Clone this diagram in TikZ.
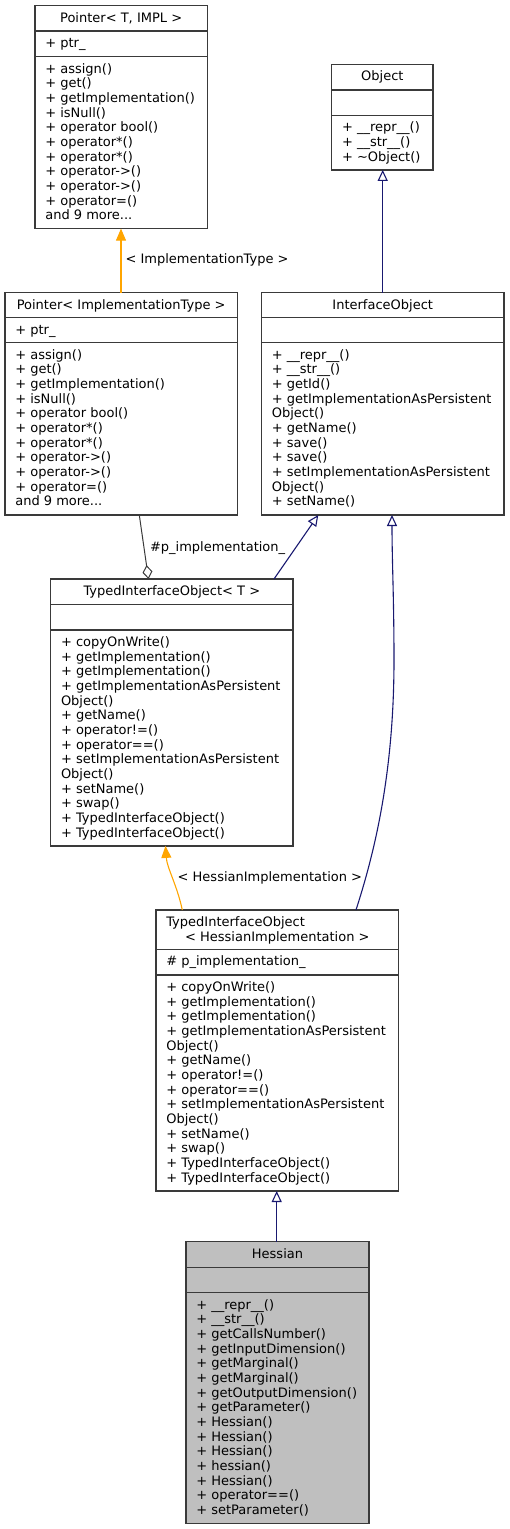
\documentclass[tikz,border=0pt]{standalone}
\usepackage{fontspec}
\setmainfont{DejaVu Sans}
\usetikzlibrary{arrows.meta}
\definecolor{edgeblue}{HTML}{191970}
\definecolor{edgeorange}{HTML}{FFA500}
\definecolor{boxline}{HTML}{3A3A3A}
\definecolor{hessfill}{HTML}{BFBFBF}
\newcommand{\dfont}{\fontsize{13}{14.66}\selectfont}
\tikzset{
  box/.style={draw=boxline, line width=1.2pt, inner sep=0pt, outer sep=0pt, anchor=north west, rectangle},
  sepline/.style={draw=boxline, line width=1.2pt},
  txt/.style={font=\dfont, inner sep=0pt, outer sep=0pt, align=left, anchor=north west},
  ttl/.style={font=\dfont, inner sep=0pt, outer sep=0pt, anchor=base},
  lbl/.style={font=\dfont, inner sep=0pt, outer sep=0pt, anchor=base west},
  inh/.style={draw=edgeblue, line width=1.1pt, -{Triangle[open, length=11pt, width=10pt, line width=1.1pt]}},
  tmpl/.style={draw=edgeorange, line width=1.1pt, -{Triangle[length=12pt, width=10pt, fill=edgeorange]}},
  agg/.style={draw=boxline, line width=1pt, -{Diamond[open, length=14pt, width=10pt, line width=1pt]}}
}
% #1 extra style, #2 name, #3 x, #4 y, #5 w, #6 h1, #7 h2, #8 h3
\newcommand{\umlbox}[8][]{%
  \node[box,#1, minimum width=#5pt, minimum height={(#6+#7+#8)*1pt}] (#2) at (#3,#4) {};
  \draw[sepline] ([yshift={-(#6)*1pt}]#2.north west) -- ([yshift={-(#6)*1pt}]#2.north east);
  \draw[sepline] ([yshift={-(#6+#7)*1pt}]#2.north west) -- ([yshift={-(#6+#7)*1pt}]#2.north east);
}
% #1 box name, #2 suffix, #3 vertical offset of section top, #4 text
\newcommand{\umlsec}[4]{%
  \node[txt] (#1-#2) at ([xshift=10.3pt,yshift={-(#3)*1pt}]#1.north west) {\rule{0pt}{16.5pt}#4};
}
\begin{document}
\begin{tikzpicture}[x=1pt,y=-1pt]
\useasboundingbox (0,0) rectangle (509,1529);

% Pointer< T, IMPL >
\umlbox{pti}{35}{5.7}{172.3}{25.3}{25.7}{171.9}
\node[ttl] (pti-t) at ([yshift=-16.5pt]pti.north) {Pointer< T, IMPL >};
\umlsec{pti}{a}{25.3}{+ ptr\_}
\umlsec{pti}{m}{51}{+ assign()\\+ get()\\+ getImplementation()\\+ isNull()\\+ operator bool()\\+ operator*()\\+ operator*()\\+ operator->()\\+ operator->()\\+ operator=()\\and 9 more...}

% Object
\umlbox{obj}{331.7}{64.3}{101.3}{25.7}{25.3}{54.6}
\node[ttl] (obj-t) at ([yshift=-16.5pt]obj.north) {Object};
\umlsec{obj}{m}{51}{+ \_\_repr\_\_()\\+ \_\_str\_\_()\\+ \textasciitilde Object()}

% Pointer< ImplementationType >
\umlbox{pit}{5}{292.7}{232.3}{25}{25}{172.3}
\node[ttl] (pit-t) at ([yshift=-16.5pt]pit.north) {Pointer< ImplementationType >};
\umlsec{pit}{a}{25}{+ ptr\_}
\umlsec{pit}{m}{50}{+ assign()\\+ get()\\+ getImplementation()\\+ isNull()\\+ operator bool()\\+ operator*()\\+ operator*()\\+ operator->()\\+ operator->()\\+ operator=()\\and 9 more...}

% InterfaceObject
\umlbox{io}{261.5}{292.7}{242.5}{25}{25}{172.3}
\node[ttl] (io-t) at ([yshift=-16.5pt]io.north) {InterfaceObject};
\umlsec{io}{m}{50}{+ \_\_repr\_\_()\\+ \_\_str\_\_()\\+ getId()\\+ getImplementationAsPersistent\\Object()\\+ getName()\\+ save()\\+ save()\\+ setImplementationAsPersistent\\Object()\\+ setName()}

% TypedInterfaceObject< T >
\umlbox{tiot}{50.7}{579}{242.3}{25.3}{25.7}{215.9}
\node[ttl] (tiot-t) at ([yshift=-16.5pt]tiot.north) {TypedInterfaceObject< T >};
\umlsec{tiot}{m}{51}{+ copyOnWrite()\\+ getImplementation()\\+ getImplementation()\\+ getImplementationAsPersistent\\Object()\\+ getName()\\+ operator!=()\\+ operator==()\\+ setImplementationAsPersistent\\Object()\\+ setName()\\+ swap()\\+ TypedInterfaceObject()\\+ TypedInterfaceObject()}

% TypedInterfaceObject< HessianImplementation >
\umlbox{tioh}{156}{910}{242.7}{39.3}{25.7}{216}
\node[txt] (tioh-t1) at ([xshift=10.3pt]tioh.north west) {\rule{0pt}{16.3pt}TypedInterfaceObject};
\node[ttl] (tioh-t2) at ([yshift=-31pt]tioh.north) {< HessianImplementation >};
\umlsec{tioh}{a}{39.3}{\# p\_implementation\_}
\umlsec{tioh}{m}{65}{+ copyOnWrite()\\+ getImplementation()\\+ getImplementation()\\+ getImplementationAsPersistent\\Object()\\+ getName()\\+ operator!=()\\+ operator==()\\+ setImplementationAsPersistent\\Object()\\+ setName()\\+ swap()\\+ TypedInterfaceObject()\\+ TypedInterfaceObject()}

% Hessian
\umlbox[fill=hessfill]{hes}{186}{1241.7}{183}{25.6}{25.4}{230.6}
\node[ttl] (hes-t) at ([yshift=-16.5pt]hes.north) {Hessian};
\umlsec{hes}{m}{51}{+ \_\_repr\_\_()\\+ \_\_str\_\_()\\+ getCallsNumber()\\+ getInputDimension()\\+ getMarginal()\\+ getMarginal()\\+ getOutputDimension()\\+ getParameter()\\+ Hessian()\\+ Hessian()\\+ Hessian()\\+ hessian()\\+ Hessian()\\+ operator==()\\+ setParameter()}

% connectors
\draw[tmpl] ([xshift=116pt]pit.north west) -- ([xshift=86pt]pti.south west);
\node[lbl] (l-impl) at (125.5,263) {< ImplementationType >};

\draw[inh] ([xshift=121.2pt]io.north west) -- ([xshift=51pt]obj.south west);

\draw[agg] ([xshift=134.3pt]pit.south west) -- ([xshift=97.8pt]tiot.north west);
\node[lbl] (l-pimpl) at (150,551) {\#p\_implementation\_};

\draw[inh] ([xshift=223.3pt]tiot.north west) -- ([xshift=56.8pt]io.south west);

\draw[tmpl] ([xshift=26.3pt]tioh.north west) .. controls (177,885) and (167,868) .. ([xshift=114.8pt]tiot.south west);
\node[lbl] (l-hess) at (177.7,881) {< HessianImplementation >};

\draw[inh] ([xshift=200pt]tioh.north west) .. controls (372,860) and (394,780) .. (394,660) .. controls (394,600) and (392,560) .. ([xshift=130.5pt]io.south west);

\draw[inh] ([xshift=90.7pt]hes.north west) -- ([xshift=120.7pt]tioh.south west);
\end{tikzpicture}
\end{document}
